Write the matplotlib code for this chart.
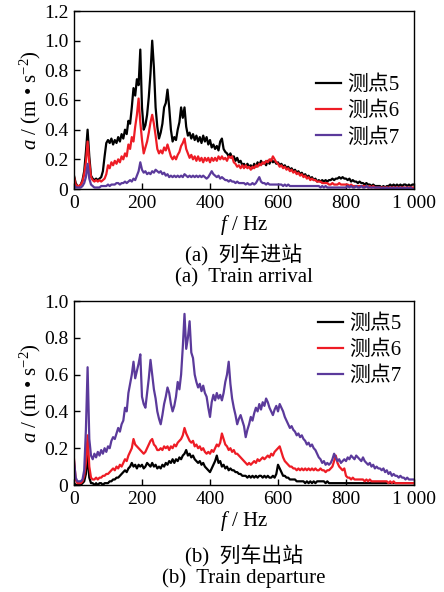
import numpy as np
import matplotlib
matplotlib.use("Agg")
import matplotlib.pyplot as plt

plt.rcParams['font.family'] = ['Liberation Serif', 'Noto Sans CJK SC']
plt.rcParams['mathtext.fontset'] = 'custom'
plt.rcParams['mathtext.rm'] = 'Liberation Serif'
plt.rcParams['mathtext.it'] = 'Liberation Serif:italic'

# frequency grid (Hz), 5 Hz step
freq = np.arange(0, 1001, 5)

series_labels = ["测点5", "测点6", "测点7"]
xtick_vals = [0, 200, 400, 600, 800, 1000]
xtick_labels = ["0", "200", "400", "600", "800", "1 000"]
ytick_a = [0, 0.2, 0.4, 0.6, 0.8, 1.0, 1.2]
ytick_a_labels = ["0", "0.2", "0.4", "0.6", "0.8", "1.0", "1.2"]
ytick_b = [0, 0.2, 0.4, 0.6, 0.8, 1.0]
ytick_b_labels = ["0", "0.2", "0.4", "0.6", "0.8", "1.0"]

# (a) Train arrival
arr_p5 = [
    0.09, 0.04, 0.02, 0.02, 0.03, 0.06, 0.12, 0.25, 0.40, 0.22, 0.09, 0.07, 0.06, 0.07, 0.06, 0.07, 0.08, 0.12, 0.22, 0.31,
    0.33, 0.31, 0.34, 0.30, 0.33, 0.31, 0.35, 0.32, 0.37, 0.34, 0.40, 0.37, 0.46, 0.44, 0.55, 0.68, 0.63, 0.74, 0.70, 0.94,
    0.55, 0.40, 0.43, 0.50, 0.62, 0.78, 1.00, 0.82, 0.55, 0.42, 0.34, 0.38, 0.44, 0.55, 0.58, 0.67, 0.55, 0.40, 0.32, 0.35,
    0.33, 0.40, 0.45, 0.55, 0.48, 0.55, 0.42, 0.36, 0.38, 0.34, 0.37, 0.33, 0.36, 0.32, 0.35, 0.31, 0.36, 0.32, 0.35, 0.30,
    0.33, 0.28, 0.30, 0.27, 0.29, 0.26, 0.32, 0.34, 0.27, 0.25, 0.24, 0.22, 0.24, 0.21, 0.22, 0.19, 0.21, 0.18, 0.19, 0.16,
    0.17, 0.15, 0.17, 0.15, 0.16, 0.14, 0.17, 0.15, 0.18, 0.16, 0.19, 0.17, 0.18, 0.16, 0.19, 0.17, 0.20, 0.18, 0.19, 0.17,
    0.18, 0.16, 0.17, 0.15, 0.16, 0.14, 0.15, 0.13, 0.14, 0.12, 0.13, 0.11, 0.12, 0.10, 0.11, 0.09, 0.10, 0.08, 0.09, 0.07,
    0.08, 0.06, 0.07, 0.05, 0.06, 0.05, 0.06, 0.05, 0.06, 0.05, 0.06, 0.06, 0.07, 0.06, 0.07, 0.07, 0.08, 0.07, 0.08, 0.07,
    0.07, 0.06, 0.07, 0.05, 0.06, 0.05, 0.05, 0.04, 0.05, 0.04, 0.04, 0.03, 0.04, 0.03, 0.03, 0.02, 0.03, 0.02, 0.02, 0.02,
    0.02, 0.01, 0.02, 0.01, 0.02, 0.02, 0.03, 0.02, 0.03, 0.02, 0.03, 0.02, 0.03, 0.02, 0.03, 0.03, 0.02, 0.03, 0.02, 0.03,
    0.03]
arr_p6 = [
    0.08, 0.03, 0.02, 0.02, 0.03, 0.05, 0.10, 0.18, 0.32, 0.18, 0.08, 0.06, 0.05, 0.06, 0.05, 0.06, 0.05, 0.06, 0.07, 0.10,
    0.16, 0.14, 0.18, 0.16, 0.19, 0.17, 0.20, 0.18, 0.22, 0.20, 0.24, 0.22, 0.30, 0.27, 0.35, 0.32, 0.42, 0.50, 0.61, 0.45,
    0.33, 0.24, 0.28, 0.32, 0.38, 0.45, 0.50, 0.44, 0.36, 0.27, 0.24, 0.26, 0.24, 0.28, 0.26, 0.30, 0.26, 0.22, 0.20, 0.22,
    0.20, 0.23, 0.25, 0.29, 0.31, 0.34, 0.27, 0.24, 0.21, 0.23, 0.20, 0.22, 0.19, 0.22, 0.19, 0.21, 0.18, 0.21, 0.19, 0.21,
    0.18, 0.21, 0.19, 0.21, 0.19, 0.22, 0.20, 0.22, 0.20, 0.21, 0.19, 0.22, 0.21, 0.22, 0.18, 0.17, 0.15, 0.16, 0.14, 0.16,
    0.14, 0.16, 0.14, 0.15, 0.13, 0.15, 0.14, 0.16, 0.15, 0.17, 0.16, 0.18, 0.17, 0.19, 0.18, 0.20, 0.19, 0.22, 0.20, 0.18,
    0.17, 0.15, 0.16, 0.14, 0.15, 0.13, 0.14, 0.12, 0.13, 0.11, 0.12, 0.10, 0.11, 0.09, 0.10, 0.08, 0.09, 0.07, 0.08, 0.06,
    0.07, 0.06, 0.06, 0.05, 0.05, 0.05, 0.04, 0.04, 0.04, 0.04, 0.03, 0.03, 0.04, 0.03, 0.03, 0.03, 0.04, 0.03, 0.03, 0.03,
    0.03, 0.03, 0.02, 0.03, 0.02, 0.02, 0.02, 0.02, 0.02, 0.02, 0.02, 0.02, 0.02, 0.01, 0.02, 0.01, 0.02, 0.01, 0.01, 0.01,
    0.01, 0.01, 0.01, 0.01, 0.01, 0.01, 0.01, 0.01, 0.01, 0.01, 0.01, 0.01, 0.01, 0.01, 0.01, 0.01, 0.01, 0.01, 0.01, 0.01,
    0.01]
arr_p7 = [
    0.03, 0.01, 0.01, 0.01, 0.01, 0.02, 0.04, 0.08, 0.17, 0.07, 0.03, 0.02, 0.01, 0.01, 0.01, 0.01, 0.02, 0.02, 0.02, 0.02,
    0.03, 0.02, 0.03, 0.03, 0.03, 0.04, 0.04, 0.03, 0.04, 0.04, 0.05, 0.04, 0.05, 0.06, 0.05, 0.07, 0.06, 0.09, 0.12, 0.18,
    0.13, 0.11, 0.12, 0.10, 0.11, 0.10, 0.12, 0.11, 0.13, 0.12, 0.11, 0.12, 0.10, 0.11, 0.09, 0.10, 0.08, 0.09, 0.08, 0.09,
    0.08, 0.09, 0.08, 0.09, 0.08, 0.10, 0.09, 0.08, 0.09, 0.08, 0.09, 0.08, 0.09, 0.08, 0.09, 0.08, 0.09, 0.08, 0.07, 0.08,
    0.10, 0.12, 0.10, 0.09, 0.08, 0.09, 0.07, 0.08, 0.07, 0.06, 0.06, 0.05, 0.06, 0.05, 0.05, 0.04, 0.05, 0.04, 0.04, 0.04,
    0.04, 0.03, 0.04, 0.03, 0.03, 0.04, 0.03, 0.04, 0.06, 0.08, 0.05, 0.04, 0.04, 0.03, 0.04, 0.03, 0.03, 0.03, 0.03, 0.03,
    0.03, 0.03, 0.03, 0.02, 0.03, 0.02, 0.03, 0.02, 0.02, 0.02, 0.02, 0.02, 0.02, 0.02, 0.02, 0.02, 0.02, 0.02, 0.02, 0.02,
    0.02, 0.02, 0.02, 0.02, 0.02, 0.01, 0.02, 0.01, 0.02, 0.01, 0.01, 0.01, 0.01, 0.01, 0.01, 0.01, 0.01, 0.01, 0.01, 0.01,
    0.01, 0.02, 0.01, 0.02, 0.01, 0.01, 0.02, 0.01, 0.01, 0.02, 0.01, 0.01, 0.02, 0.01, 0.01, 0.01, 0.01, 0.01, 0.01, 0.01,
    0.01, 0.00, 0.01, 0.00, 0.01, 0.00, 0.01, 0.00, 0.01, 0.00, 0.01, 0.00, 0.01, 0.00, 0.01, 0.00, 0.01, 0.00, 0.01, 0.00,
    0.00]

# (b) Train departure
dep_p5 = [
    0.01, 0.00, 0.00, 0.00, 0.00, 0.01, 0.02, 0.06, 0.16, 0.04, 0.01, 0.01, 0.00, 0.01, 0.00, 0.01, 0.01, 0.00, 0.01, 0.01,
    0.01, 0.02, 0.02, 0.03, 0.03, 0.04, 0.04, 0.05, 0.06, 0.07, 0.08, 0.07, 0.09, 0.10, 0.12, 0.10, 0.11, 0.09, 0.11, 0.10,
    0.11, 0.09, 0.10, 0.12, 0.11, 0.10, 0.12, 0.10, 0.11, 0.09, 0.10, 0.09, 0.11, 0.10, 0.12, 0.11, 0.13, 0.12, 0.14, 0.12,
    0.14, 0.13, 0.15, 0.14, 0.16, 0.17, 0.19, 0.16, 0.17, 0.15, 0.16, 0.14, 0.13, 0.12, 0.13, 0.11, 0.12, 0.10, 0.09, 0.08,
    0.07, 0.09, 0.11, 0.13, 0.16, 0.12, 0.13, 0.10, 0.11, 0.09, 0.10, 0.08, 0.09, 0.08, 0.08, 0.07, 0.07, 0.06, 0.06, 0.05,
    0.05, 0.05, 0.04, 0.05, 0.04, 0.05, 0.04, 0.05, 0.04, 0.05, 0.05, 0.04, 0.05, 0.04, 0.05, 0.04, 0.04, 0.05, 0.04, 0.06,
    0.11, 0.09, 0.07, 0.05, 0.05, 0.04, 0.04, 0.03, 0.03, 0.03, 0.03, 0.02, 0.02, 0.02, 0.02, 0.02, 0.01, 0.02, 0.01, 0.02,
    0.01, 0.02, 0.01, 0.02, 0.02, 0.02, 0.02, 0.02, 0.01, 0.02, 0.01, 0.01, 0.01, 0.01, 0.01, 0.01, 0.01, 0.01, 0.01, 0.01,
    0.01, 0.01, 0.01, 0.01, 0.01, 0.01, 0.01, 0.01, 0.01, 0.01, 0.01, 0.01, 0.01, 0.01, 0.01, 0.01, 0.01, 0.01, 0.01, 0.01,
    0.01, 0.01, 0.01, 0.01, 0.01, 0.01, 0.01, 0.01, 0.01, 0.01, 0.01, 0.01, 0.01, 0.01, 0.01, 0.01, 0.01, 0.01, 0.01, 0.01,
    0.01]
dep_p6 = [
    0.14, 0.03, 0.01, 0.01, 0.01, 0.02, 0.05, 0.12, 0.27, 0.10, 0.04, 0.03, 0.03, 0.04, 0.03, 0.04, 0.04, 0.05, 0.05, 0.06,
    0.06, 0.07, 0.08, 0.09, 0.08, 0.10, 0.09, 0.11, 0.10, 0.12, 0.14, 0.13, 0.16, 0.18, 0.20, 0.25, 0.22, 0.21, 0.20, 0.19,
    0.18, 0.17, 0.18, 0.20, 0.22, 0.24, 0.25, 0.22, 0.21, 0.19, 0.19, 0.20, 0.19, 0.21, 0.20, 0.21, 0.19, 0.21, 0.20, 0.22,
    0.21, 0.23, 0.24, 0.25, 0.27, 0.31, 0.28, 0.26, 0.24, 0.23, 0.24, 0.21, 0.22, 0.20, 0.21, 0.19, 0.20, 0.18, 0.17, 0.18,
    0.17, 0.19, 0.18, 0.20, 0.22, 0.21, 0.23, 0.28, 0.25, 0.22, 0.21, 0.19, 0.20, 0.18, 0.19, 0.17, 0.17, 0.16, 0.15, 0.14,
    0.13, 0.12, 0.11, 0.12, 0.11, 0.12, 0.13, 0.12, 0.14, 0.13, 0.14, 0.15, 0.14, 0.15, 0.16, 0.15, 0.17, 0.16, 0.18, 0.19,
    0.20, 0.21, 0.18, 0.15, 0.13, 0.12, 0.11, 0.10, 0.10, 0.09, 0.09, 0.08, 0.09, 0.08, 0.09, 0.08, 0.09, 0.08, 0.09, 0.08,
    0.09, 0.08, 0.09, 0.08, 0.08, 0.09, 0.08, 0.08, 0.07, 0.08, 0.08, 0.09, 0.10, 0.13, 0.16, 0.12, 0.10, 0.09, 0.08, 0.09,
    0.05, 0.04, 0.04, 0.03, 0.04, 0.03, 0.03, 0.03, 0.03, 0.03, 0.03, 0.02, 0.03, 0.02, 0.03, 0.02, 0.02, 0.02, 0.02, 0.02,
    0.02, 0.02, 0.02, 0.02, 0.02, 0.01, 0.02, 0.01, 0.02, 0.01, 0.01, 0.01, 0.01, 0.01, 0.01, 0.01, 0.01, 0.01, 0.01, 0.01,
    0.01]
dep_p7 = [
    0.13, 0.04, 0.02, 0.02, 0.02, 0.03, 0.08, 0.30, 0.64, 0.25, 0.16, 0.14, 0.17, 0.15, 0.18, 0.16, 0.19, 0.17, 0.20, 0.18,
    0.21, 0.20, 0.24, 0.26, 0.25, 0.28, 0.31, 0.29, 0.33, 0.35, 0.42, 0.40, 0.50, 0.55, 0.60, 0.67, 0.58, 0.62, 0.66, 0.71,
    0.48, 0.44, 0.42, 0.50, 0.58, 0.68, 0.60, 0.52, 0.47, 0.40, 0.36, 0.33, 0.38, 0.44, 0.48, 0.53, 0.50, 0.44, 0.40, 0.43,
    0.48, 0.56, 0.52, 0.60, 0.75, 0.93, 0.74, 0.80, 0.89, 0.72, 0.69, 0.60, 0.56, 0.53, 0.55, 0.51, 0.54, 0.50, 0.48, 0.42,
    0.37, 0.45, 0.49, 0.46, 0.50, 0.47, 0.49, 0.46, 0.50, 0.56, 0.60, 0.67, 0.55, 0.47, 0.42, 0.38, 0.33, 0.36, 0.38, 0.35,
    0.32, 0.26, 0.30, 0.33, 0.37, 0.35, 0.39, 0.42, 0.40, 0.44, 0.41, 0.45, 0.43, 0.47, 0.45, 0.42, 0.40, 0.38, 0.41, 0.43,
    0.40, 0.44, 0.42, 0.40, 0.37, 0.35, 0.33, 0.31, 0.32, 0.30, 0.29, 0.27, 0.28, 0.26, 0.27, 0.25, 0.24, 0.22, 0.23, 0.21,
    0.22, 0.20, 0.19, 0.17, 0.15, 0.14, 0.12, 0.13, 0.11, 0.12, 0.11, 0.12, 0.14, 0.17, 0.15, 0.13, 0.14, 0.12, 0.13, 0.14,
    0.13, 0.15, 0.14, 0.16, 0.15, 0.14, 0.16, 0.15, 0.14, 0.13, 0.15, 0.13, 0.12, 0.11, 0.12, 0.10, 0.11, 0.09, 0.10, 0.09,
    0.09, 0.08, 0.09, 0.07, 0.08, 0.06, 0.07, 0.05, 0.06, 0.05, 0.05, 0.04, 0.05, 0.04, 0.04, 0.03, 0.04, 0.03, 0.03, 0.03,
    0.03]

colors = ["#000000", "#ee1c25", "#5b3a9b"]

W, H = 444, 592
fig = plt.figure(figsize=(W / 100, H / 100), dpi=100)


def px_axes(left, top, right, bottom):
    return fig.add_axes([left / W, 1 - bottom / H, (right - left) / W, (bottom - top) / H])


def style(ax, ylim, yt, ytl, leg_anchor):
    ax.set_xlim(0, 1000)
    ax.set_ylim(*ylim)
    ax.set_xticks(xtick_vals)
    ax.set_xticklabels(xtick_labels)
    ax.set_yticks(yt)
    ax.set_yticklabels(ytl)
    ax.tick_params(direction='in', length=4, width=1, labelsize=14, pad=4,
                   top=False, right=False)
    for s in ax.spines.values():
        s.set_linewidth(1.0)
    ax.set_xlabel("$f$ / Hz", fontsize=15, labelpad=1)
    ax.set_ylabel("$a$ / (m • s$^{-2}$)", fontsize=15, labelpad=1)
    ax.legend(loc='upper left', bbox_to_anchor=leg_anchor, frameon=False,
              fontsize=15, handlelength=1.2, handletextpad=0.3,
              labelspacing=0.31, borderaxespad=0, borderpad=0)


ax1 = px_axes(74, 11, 414, 189)
for vals, c, lab in zip([arr_p5, arr_p6, arr_p7], colors, series_labels):
    ax1.plot(freq, vals, color=c, lw=1.6, label=lab)
style(ax1, (0, 1.2), ytick_a, ytick_a_labels, (0.712, 0.636))

ax2 = px_axes(74, 301, 414, 485)
for vals, c, lab in zip([dep_p5, dep_p6, dep_p7], colors, series_labels):
    ax2.plot(freq, vals, color=c, lw=1.6, label=lab)
style(ax2, (0, 1.0), ytick_b, ytick_b_labels, (0.718, 0.928))

cx = 244 / W
fig.text(cx, 1 - 255 / H, "(a)  列车进站", ha='center', va='center', fontsize=15)
fig.text(cx, 1 - 278 / H, "(a)  Train arrival", ha='center', va='center', fontsize=15)
fig.text(cx, 1 - 556 / H, "(b)  列车出站", ha='center', va='center', fontsize=15)
fig.text(cx, 1 - 578 / H, "(b)  Train departure", ha='center', va='center', fontsize=15)

fig.savefig("out.png", dpi=100)
